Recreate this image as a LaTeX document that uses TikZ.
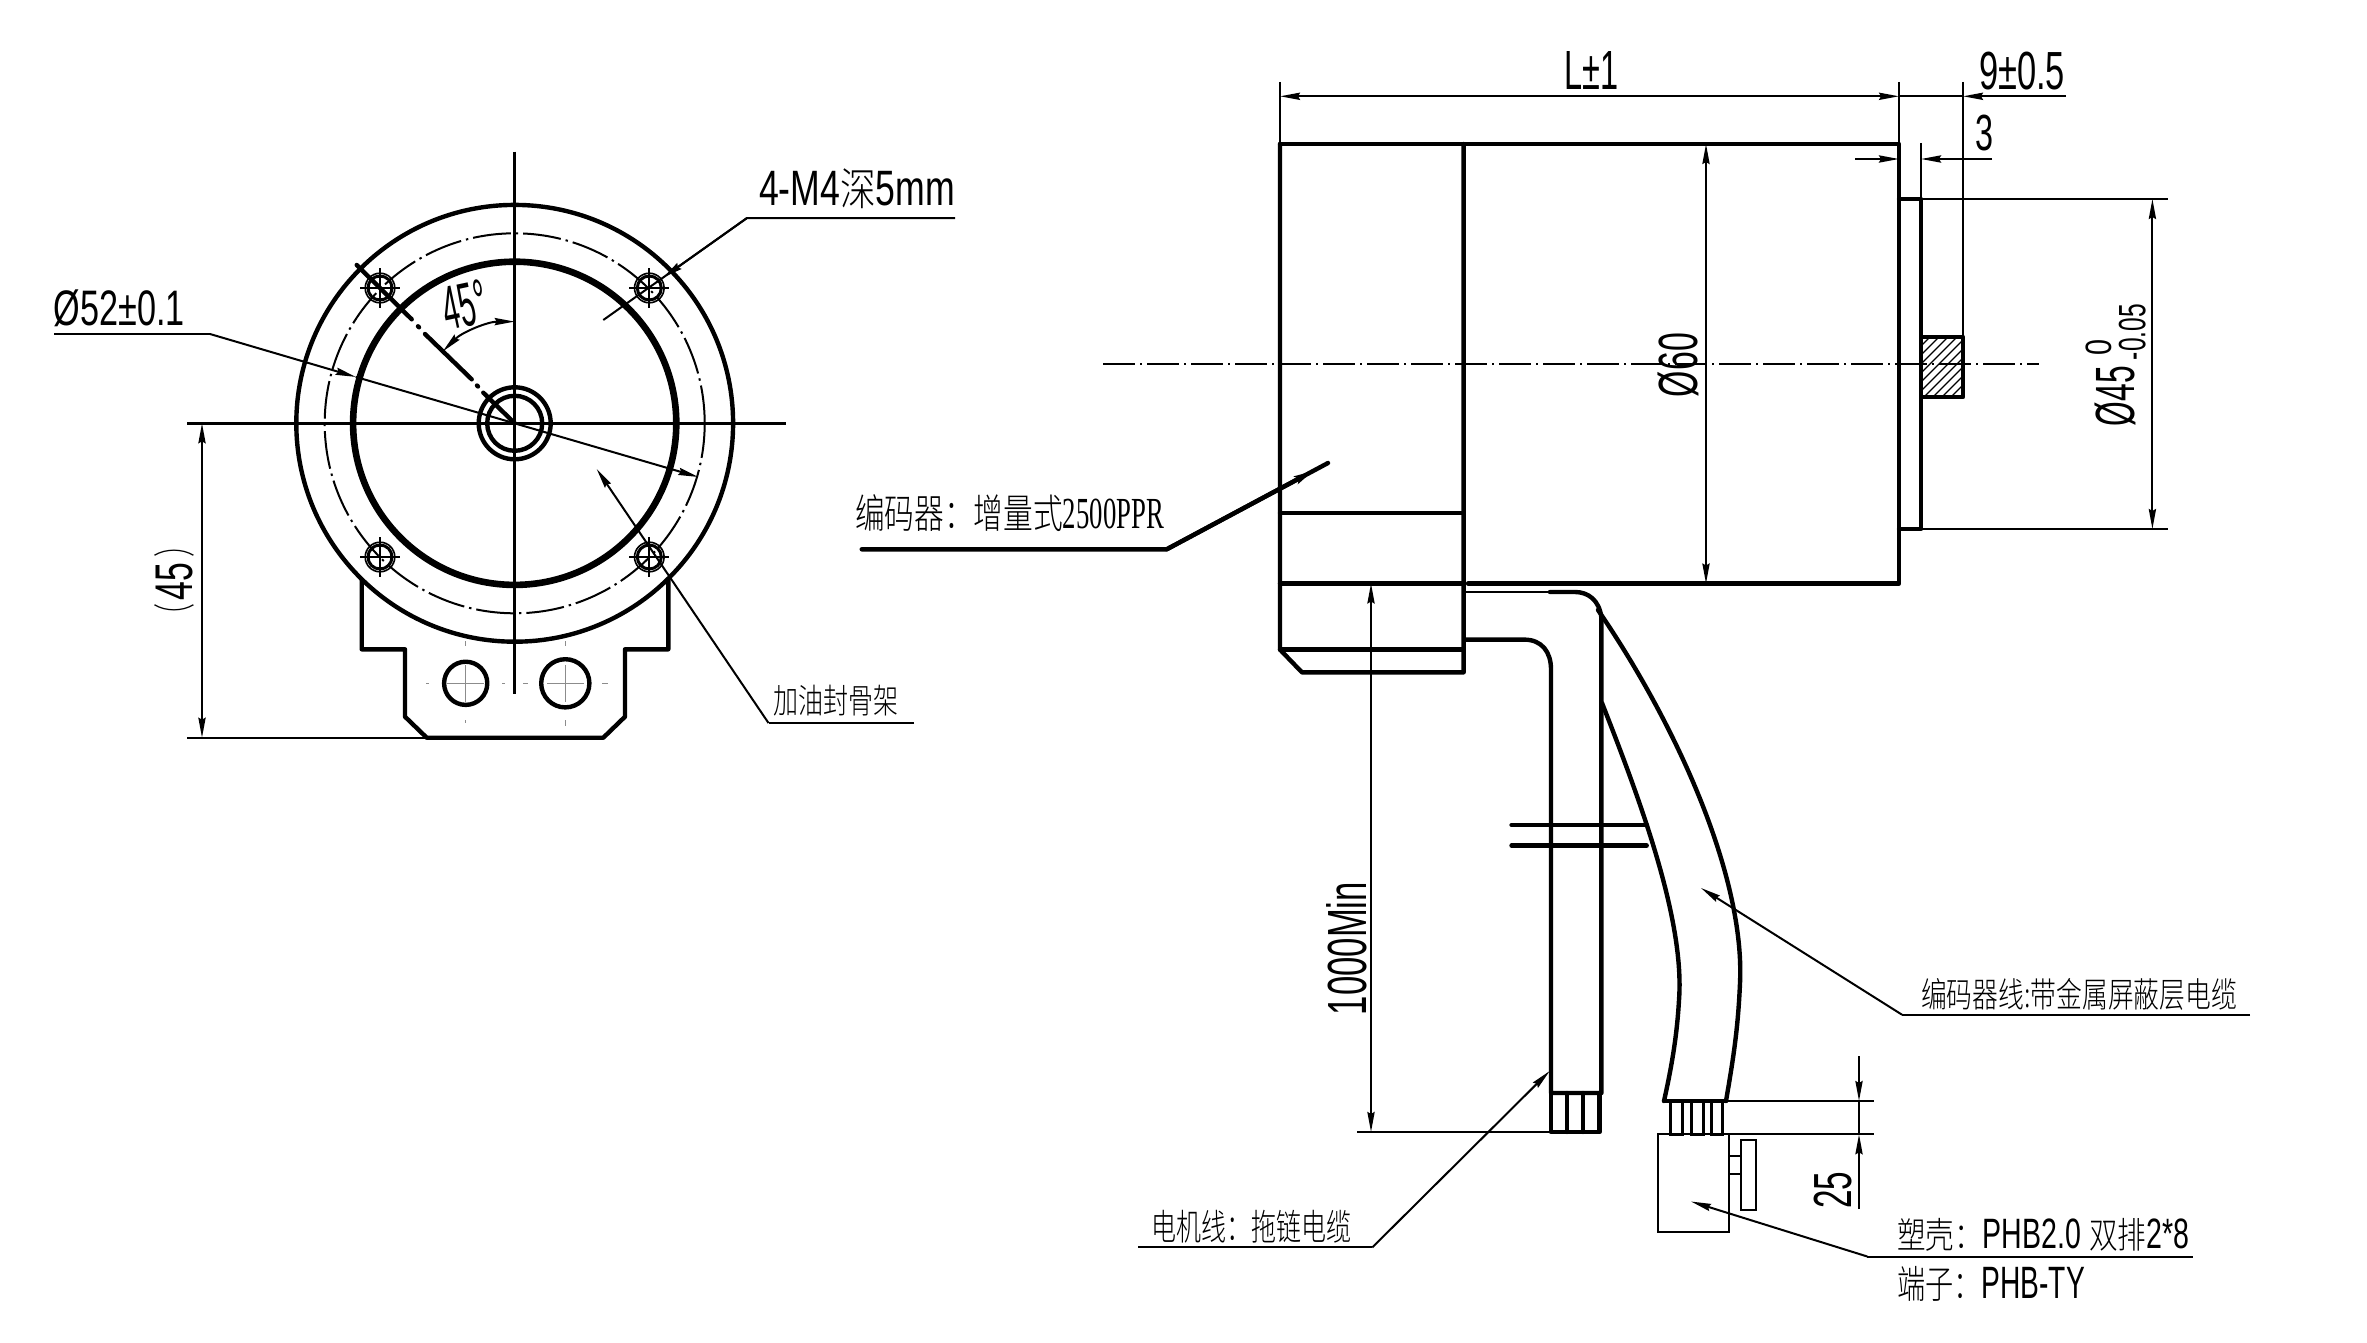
\documentclass[tikz,border=0pt]{standalone}
\usepackage{graphicx}
\usepackage{fontspec}
\setmainfont{Liberation Sans}
\newfontfamily\ser{Liberation Serif}
\newfontfamily\cjk{Noto Sans CJK SC}[UprightFont=* Light]
\usetikzlibrary{arrows.meta}
\newlength\pxu \setlength\pxu{0.5pt}
\newcommand\fitt[3]{\resizebox*{#1\pxu}{#2\pxu}{\fontsize{20}{20}\selectfont #3}}
\tikzset{
  obj/.style={line width=2.2pt,line cap=round,line join=round},
  heavy/.style={line width=3.3pt},
  mid/.style={line width=1.5pt},
  fine/.style={line width=1pt},
  cline/.style={line width=1pt,dash pattern=on 16pt off 2.5pt on 1pt off 2.5pt},
  ring/.style={line width=1pt,dash pattern=on 19pt off 2.5pt on 1.2pt off 2.5pt},
  faint/.style={line width=.5pt,black!45},
  txt/.style={inner sep=0pt,anchor=center},
  >={Stealth[length=10pt,width=3.6pt,inset=1pt]},
}
\begin{document}
\begin{tikzpicture}[x=.5pt,y=-.5pt]
\useasboundingbox (0,0) rectangle (2367,1343);
\fill[white] (0,0) rectangle (2367,1343);
\coordinate (O) at (514.7,423.3);
% ---------- front view
\draw[obj] (361.7,578.3) -- (361.7,649.3) -- (405,649.3) -- (405,716.7) -- (426.7,737.7) -- (603.3,737.7) -- (625,716.7) -- (625,649.3) -- (668.3,649.3) -- (668.3,578.3);
\fill[white] (O) circle[radius=109.2pt];
\draw[obj] (O) circle[radius=109.2pt];
\draw[ring] (O) circle[radius=95pt];
\draw[heavy] (O) circle[radius=80.8pt];
\draw[obj] (O) circle[radius=36\pxu];
\draw[obj] (O) circle[radius=27.5\pxu];
\draw[mid] (514.7,151.6) -- (514.7,694);
\draw[mid] (187,423.3) -- (786,423.3);
\foreach \bx/\by in {380/288,649.3/288,380/557,649.3/557}{
  \draw[mid] (\bx,\by) circle[radius=6pt];
  \draw[line width=.8pt] (\bx,\by) circle[radius=7.4pt];
  \draw[fine] (\bx-20,\by) -- (\bx+20,\by);
  \draw[fine] (\bx,\by-20) -- (\bx,\by+20);
}
% bracket holes
\draw[obj] (465.7,683.3) circle[radius=21.6\pxu];
\draw[obj] (565.3,683.3) circle[radius=24.1\pxu];
\draw[faint] (426,683.3)--(429,683.3) (447,683.3)--(484,683.3) (502,683.3)--(505,683.3) (523,683.3)--(528,683.3) (547,683.3)--(584,683.3) (602,683.3)--(608,683.3);
\draw[faint] (465.7,641)--(465.7,646) (465.7,665)--(465.7,702) (465.7,720)--(465.7,723);
\draw[faint] (565.3,641)--(565.3,646) (565.3,665)--(565.3,702) (565.3,720)--(565.3,726);
% 45 degree line
\draw[obj] (356.7,265)--(411.7,319.3) (418,326.3)--(419,327.3) (425,334)--(471.7,379.3) (477,385.5)--(478,386.5) (483.3,392.7)--(O);
\draw[fine,<->] (514.7,321.6) .. controls (487.7,321.6) and (461.9,332.3) .. (442.8,351.4);
\node[txt,rotate=12] (t45) at (465,305) {\fitt{44}{44}{45°}};
% (45) dimension
\draw[fine] (187,737.7) -- (426.7,737.7);
\draw[fine,<->] (202,423.3) -- (202,737.7);
\node[txt,rotate=90] (tp45) at (174.5,581.5) {\fitt{37.5}{37}{45}};
\node[txt,rotate=90] (tpl45) at (174,616) {\fitt{26}{40}{\cjk （}};
\node[txt,rotate=90] (tpr45) at (174,544) {\fitt{26}{40}{\cjk ）}};
% phi52
\node[txt] (t52) at (119.5,308.7) {\fitt{131}{37}{Ø52±0.1}};
\coordinate (a52) at (54,334);
\coordinate (b52) at (210,334);
\coordinate (c52) at (355.7,376.9);
\coordinate (d52) at (698.3,477);
\draw[fine] (a52) -- (b52);
\draw[fine,->] (b52) -- (c52);
\draw[fine,->] (c52) -- (d52);
% 4-M4
\node[txt] (tm4) at (857,189) {\fitt{196}{40}{4-M4{\cjk\scalebox{1}[.9]{深}}5mm}};
\coordinate (a4) at (955,218);
\coordinate (b4) at (747,218);
\coordinate (c4) at (663,277.6);
\coordinate (d4) at (603.3,320);
\draw[fine] (a4) -- (b4) -- (d4);
\draw[fine,->] (b4) -- (c4);
% oil seal
\node[txt] (toil) at (836,701) {\fitt{125}{31}{\cjk 加油封骨架}};
\coordinate (a5) at (914,723);
\coordinate (b5) at (768.5,723);
\coordinate (c5) at (596.7,469);
\draw[fine] (a5) -- (b5);
\draw[fine,->] (b5) -- (c5);
% ---------- side view
\draw[cline] (1103,364) -- (2039,364);
\draw[obj] (1280,144) -- (1899,144) -- (1899,583.5) -- (1468,583.5);
\draw[obj] (1280,144) -- (1280,649.6) -- (1302,672.4) -- (1463.6,672.4) -- (1463.6,144);
\draw[obj] (1280,513) -- (1463.6,513);
\draw[obj] (1280,583.5) -- (1463.6,583.5);
\draw[obj] (1280,649.6) -- (1463.6,649.6);
% flange and shaft
\draw[obj] (1899,199) -- (1921,199) -- (1921,529) -- (1899,529);
\begin{scope}
\clip (1921,337) rectangle (1963,397);
\foreach \i in {0,...,12} \draw[line width=.6pt] (1861+\i*9,397) -- (1921+\i*9,337);
\end{scope}
\draw[obj] (1921,337) rectangle (1963,397);
% cables
\draw[fine] (1465.6,592) -- (1550,592);
\draw[obj] (1550,592) -- (1575,592) .. controls (1588,592) and (1599.5,600) .. (1601.4,618) -- (1601.4,1093) -- (1551,1093) -- (1551,669.5) .. controls (1551,652) and (1542,639.6) .. (1524,639.6) -- (1465.6,639.6);
\draw[obj] (1551,1093) -- (1551,1132) -- (1599.5,1132) -- (1599.5,1093);
\draw[obj] (1567,1093) -- (1567,1132) (1583,1093) -- (1583,1132);
\draw[obj] (1598,610) .. controls (1680,730) and (1745,880) .. (1740,983) .. controls (1738,1030) and (1733,1060) .. (1726,1101);
\draw[obj] (1602,703) .. controls (1640,800) and (1685,920) .. (1679,1000) .. controls (1677,1035) and (1672,1065) .. (1664,1101);
\draw[obj] (1664,1101) -- (1726,1101);
\draw[obj] (1511.5,825) -- (1647,825);
\draw[obj] (1511.5,845.6) -- (1646.7,845.6);
\draw[mid] (1670,1101) rectangle (1682.7,1134);
\draw[mid] (1691,1101) rectangle (1703.3,1134);
\draw[mid] (1711,1101) rectangle (1722.3,1134);
% connector
\draw[fine] (1657.7,1134.3) rectangle (1729.3,1232.3);
\draw[fine] (1740.7,1140) rectangle (1756,1210);
\draw[fine] (1729.3,1156) -- (1740.7,1156) (1729.3,1174.3) -- (1740.7,1174.3);
% dimensions
\draw[fine] (1280,82) -- (1280,144) (1899,82) -- (1899,144) (1963,82) -- (1963,337);
\draw[fine,<->] (1280,96.3) -- (1899,96.3);
\draw[fine] (1899,96.3) -- (1963,96.3);
\draw[fine,->] (2066,96.3) -- (1963,96.3);
\node[txt] (tL) at (1591.5,71) {\fitt{54}{38}{L±1}};
\node[txt] (t95) at (2022,71) {\fitt{86}{38}{9±0.5}};
\node[txt] (t3) at (1984,133) {\fitt{18}{36}{3}};
\draw[fine] (1921,143) -- (1921,199);
\draw[fine,->] (1855,159) -- (1899,159);
\draw[fine,->] (1992,159) -- (1921,159);
\draw[fine] (1921,199) -- (2168,199) (1921,529) -- (2168,529);
\draw[fine,<->] (2152.4,199) -- (2152.4,529);
\node[txt,rotate=90] (tp45b) at (2115.7,396) {\fitt{60}{41}{Ø45}};
\node[txt,rotate=90] (tp0) at (2098.7,347) {\fitt{16}{26}{0}};
\node[txt,rotate=90] (tp05) at (2132.3,332) {\fitt{56}{27}{-0.05}};
\draw[fine,<->] (1706,144) -- (1706,583.5);
\node[txt,rotate=90] (t60) at (1678.8,365) {\fitt{64}{41}{Ø60}};
\draw[fine,<->] (1371,583.5) -- (1371,1132);
\draw[fine] (1357,1132) -- (1551,1132);
\node[txt,rotate=90] (t1000) at (1347,948.5) {\fitt{133}{40.5}{1000Min}};
\draw[fine] (1726,1101) -- (1874,1101) (1729.3,1134.3) -- (1874,1134.3);
\draw[fine,->] (1859,1056) -- (1859,1101);
\draw[fine,->] (1859,1209) -- (1859,1134.3);
\draw[fine] (1859,1101) -- (1859,1134.3);
\node[txt,rotate=90] (t25) at (1833,1190) {\fitt{37}{38}{25}};
% leaders
\node[txt] (tenc) at (1009.5,513.5) {\fitt{309}{37}{{\cjk 编码器：增量式}{\ser\scalebox{.9}[1.1]{2500PPR}}}};
\coordinate (a6) at (861.7,549.3);
\coordinate (b6) at (1166.7,549.3);
\coordinate (c6) at (1315,470);
\coordinate (d6) at (1328,463);
\draw[obj] (a6) -- (b6) -- (d6);
\draw[obj,->] (b6) -- (c6);
\node[txt] (tmot) at (1251.7,1226.5) {\fitt{200}{33}{\cjk 电机线：拖链电缆}};
\coordinate (a7) at (1138,1247.4);
\coordinate (b7) at (1372.3,1247.4);
\coordinate (c7) at (1549.7,1071);
\draw[fine] (a7) -- (b7);
\draw[fine,->] (b7) -- (c7);
\node[txt] (tcab) at (2079,994) {\fitt{316}{32}{\cjk 编码器线:带金属屏蔽层电缆}};
\coordinate (a8) at (2250,1014.7);
\coordinate (b8) at (1902,1014.7);
\coordinate (c8) at (1701,888);
\draw[fine] (a8) -- (b8);
\draw[fine,->] (b8) -- (c8);
\node[txt] (tpl) at (2043,1234.5) {\fitt{292}{33}{{\cjk\scalebox{1}[.85]{塑壳：}}PHB2.0 {\cjk\scalebox{1}[.85]{双排}}2*8}};
\node[txt] (tter) at (1991,1283.5) {\fitt{188}{35}{{\cjk\scalebox{1}[.85]{端子：}}PHB-TY}};
\coordinate (a9) at (2192.6,1256.5);
\coordinate (b9) at (1867.3,1256.5);
\coordinate (c9) at (1691,1201.5);
\draw[fine] (a9) -- (b9);
\draw[fine,->] (b9) -- (c9);
\end{tikzpicture}
\end{document}
